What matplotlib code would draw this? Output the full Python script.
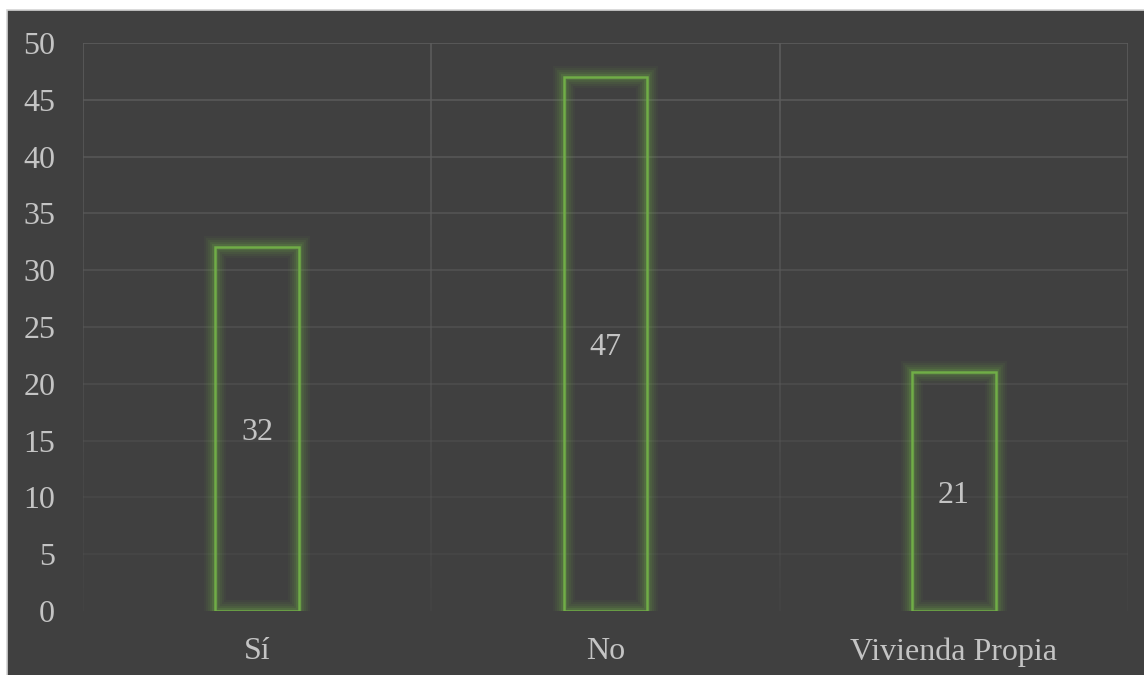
import matplotlib.pyplot as plt
from matplotlib.patches import Rectangle
from matplotlib.collections import LineCollection

categorias = ['Sí', 'No', 'Vivienda Propia']
valores = [32, 47, 21]
yticks = [0, 5, 10, 15, 20, 25, 30, 35, 40, 45, 50]

fondo = '#404040'
verde = '#70ad47'
texto = '#c4c4c4'

plt.rcParams['font.family'] = ['Liberation Serif', 'DejaVu Serif']

fig = plt.figure(figsize=(11.44, 6.75), dpi=100, facecolor='white')
# dark panel with thin light border on the left/top
fig.patches.append(Rectangle((7 / 1144, -0.01), 1.01 - 7 / 1144, 1.01 - 10 / 675,
                             transform=fig.transFigure, facecolor=fondo,
                             edgecolor='#d4d4d4', linewidth=1.2, zorder=-10))

ax = fig.add_axes([83 / 1144, 1 - 611 / 675, (1128 - 83) / 1144, (611 - 43) / 675])
ax.set_facecolor('none')
ax.set_xlim(-0.5, len(categorias) - 0.5)
ax.set_ylim(0, 50)
for s in ax.spines.values():
    s.set_visible(False)

# gridlines fade out towards the bottom
for y in yticks[1:]:
    a = 0.2 + 0.8 * (y / 50) ** 1.3
    ax.axhline(y, color='#5c5c5c', alpha=a, lw=1.2, zorder=1)
segs, cols = [], []
for xv in [-0.5, 0.5, 1.5, 2.5]:
    for y0 in range(0, 50, 2):
        segs.append([(xv, y0), (xv, y0 + 2)])
        cols.append((0.36, 0.36, 0.36, 0.15 + 0.85 * (y0 + 1) / 50))
ax.add_collection(LineCollection(segs, colors=cols, linewidths=1.2, zorder=1))

ancho = 0.24
for i, v in enumerate(valores):
    x0 = i - ancho / 2
    # soft glow around the outline
    for lw, al in [(16, 0.05), (13, 0.07), (10, 0.09), (7, 0.12), (4.5, 0.18)]:
        ax.add_patch(Rectangle((x0, 0), ancho, v, fill=False, edgecolor=verde,
                               linewidth=lw, alpha=al, joinstyle='miter', zorder=2))
    ax.add_patch(Rectangle((x0, 0), ancho, v, fill=False, edgecolor=verde,
                           linewidth=1.8, joinstyle='miter', zorder=3))
    ax.text(i, v / 2, str(v), ha='center', va='center_baseline', color=texto,
            fontsize=23, zorder=4)

ax.set_xticks(range(len(categorias)))
ax.set_xticklabels(categorias)
ax.set_yticks(yticks)
ax.tick_params(axis='both', length=0, colors=texto, labelsize=23)
ax.tick_params(axis='y', pad=20)
ax.tick_params(axis='x', pad=19)

fig.savefig('out.png', dpi=100, facecolor='white')
